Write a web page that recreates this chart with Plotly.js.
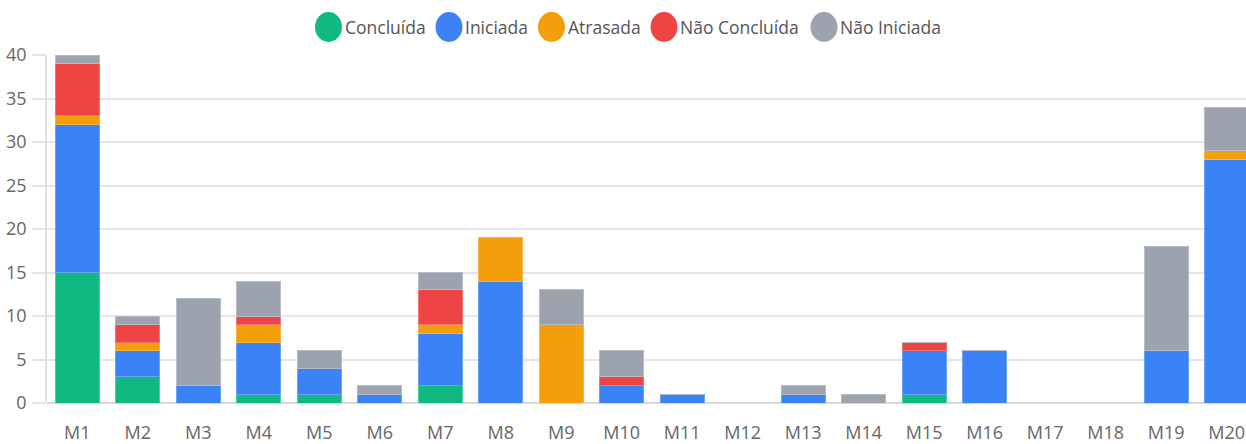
<!DOCTYPE html>
<html>
<head>
<meta charset="utf-8">
<script src="https://cdn.plot.ly/plotly-3.0.1.min.js"></script>
<style>
html,body{margin:0;padding:0;overflow:hidden;background:#fff;}
#chart{width:1257px;height:444px;}
</style>
</head>
<body>
<div id="chart"></div>
<script>
const categories = ["M1","M2","M3","M4","M5","M6","M7","M8","M9","M10","M11","M12","M13","M14","M15","M16","M17","M18","M19","M20"];
const seriesNames = ["Concluída","Iniciada","Atrasada","Não Concluída","Não Iniciada"];
const concluida    = [15,3,0,1,1,0,2,0,0,0,0,0,0,0,1,0,0,0,0,0];
const iniciada     = [17,3,2,6,3,1,6,14,0,2,1,0,1,0,5,6,0,0,6,28];
const atrasada     = [1,1,0,2,0,0,1,5,9,0,0,0,0,0,0,0,0,0,0,1];
const naoConcluida = [6,2,0,1,0,0,4,0,0,1,0,0,0,0,1,0,0,0,0,0];
const naoIniciada  = [1,1,10,4,2,1,2,0,4,3,0,0,1,1,0,0,0,0,12,5];
const yTicks = [0,5,10,15,20,25,30,35,40];

const seriesValues = [concluida, iniciada, atrasada, naoConcluida, naoIniciada];
const colors = ["#10b981","#3b82f6","#f59e0b","#ef4444","#9ca3af"];
const borders = ["#4fcc9f","#6aa2f8","#f8b547","#f37474","#b6bcc6"];

const traces = seriesNames.map((name, i) => ({
  type: "bar",
  name: name,
  x: categories,
  y: seriesValues[i],
  marker: {color: colors[i], line: {color: borders[i], width: 1}},
  showlegend: false,
  hoverinfo: "x+y+name"
}));

// custom legend (large circles) laid out in pixel positions
const W = 1257, H = 444, ml = 47, mr = 0, mt = 55, mb = 41;
const pw = W - ml - mr, ph = H - mt - mb;
const px2paperX = p => (p - ml) / pw;
const py2paperY = p => (H - mb - p) / ph;
const legendCircleX = [328.5, 449, 551.5, 664, 824];
const legendY = 27;
const shapes = [];
const annotations = [];
seriesNames.forEach((name, i) => {
  shapes.push({
    type: "circle", xref: "paper", yref: "paper",
    xsizemode: "pixel", ysizemode: "pixel",
    xanchor: px2paperX(legendCircleX[i]), yanchor: py2paperY(legendY),
    x0: -13.5, x1: 13.5, y0: -15, y1: 15,
    fillcolor: colors[i], line: {width: 0}
  });
  annotations.push({
    xref: "paper", yref: "paper",
    x: px2paperX(legendCircleX[i] + 15), y: py2paperY(legendY),
    xanchor: "left", yanchor: "middle", showarrow: false,
    text: name, borderpad: 0,
    font: {family: "Open Sans, Noto Sans, sans-serif", size: 17.5, color: "#555"}
  });
});

const layout = {
  width: W, height: H,
  margin: {l: ml, r: mr, t: mt, b: mb, pad: 0},
  barmode: "stack",
  bargap: 0.27,
  paper_bgcolor: "#fff",
  plot_bgcolor: "#fff",
  showlegend: false,
  font: {family: "Open Sans, Noto Sans, sans-serif", size: 18, color: "#666"},
  xaxis: {
    type: "category",
    categoryorder: "array",
    categoryarray: categories,
    range: [-0.5, categories.length - 0.5],
    showgrid: false,
    showline: false,
    zeroline: false,
    ticks: "",
    ticklabelstandoff: 17,
    tickfont: {size: 18, color: "#666"}
  },
  yaxis: {
    range: [0, 40],
    tickvals: yTicks,
    ticktext: yTicks.map(String),
    showgrid: true,
    gridcolor: "#e5e5e5",
    gridwidth: 1.5,
    zeroline: true,
    zerolinecolor: "#d9d9d9",
    zerolinewidth: 1.5,
    showline: true,
    linecolor: "#e0e0e0",
    linewidth: 1.5,
    ticks: "outside",
    ticklen: 13,
    tickcolor: "#e5e5e5",
    tickwidth: 1.5,
    ticklabelstandoff: 2,
    tickfont: {size: 18, color: "#666"}
  },
  shapes: shapes,
  annotations: annotations
};

Plotly.newPlot("chart", traces, layout, {displayModeBar: false, responsive: false});
</script>
</body>
</html>
